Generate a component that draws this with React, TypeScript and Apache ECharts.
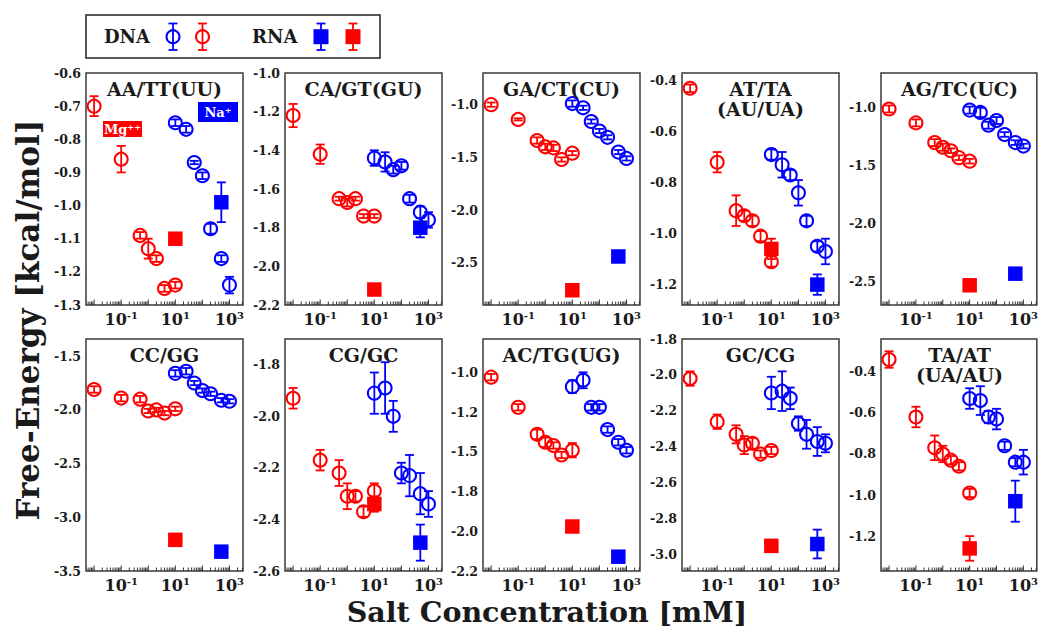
import React, { useEffect, useRef } from "react";
import * as echarts from "echarts";

// Salt concentrations (mM)
const mgConc = [0.01, 0.1, 0.5, 1, 2, 4, 10];
const naConc = [10, 25, 50, 100, 200, 500, 1000];
const rnaConc = [10, 500]; // [Mg, Na]

const titles = [
  "AA/TT(UU)", "CA/GT(GU)", "GA/CT(CU)", "AT/TA\n(AU/UA)", "AG/TC(UC)",
  "CC/GG", "CG/GC", "AC/TG(UG)", "GC/CG", "TA/AT\n(UA/AU)",
];

// ---- Free energies (kcal/mol) ----
const aaMg = [-0.70, -0.86, -1.09, -1.13, -1.16, -1.25, -1.24];
const aaMgErr = [0.03, 0.04, 0.01, 0.03, 0.01, 0.01, 0.01];
const aaNa = [-0.75, -0.77, -0.87, -0.91, -1.07, -1.16, -1.24];
const aaNaErr = [0.01, 0.01, 0.005, 0.01, 0.015, 0.01, 0.025];
const aaRna = [-1.10, -0.99];
const aaRnaErr = [0.01, 0.06];

const caMg = [-1.22, -1.42, -1.65, -1.67, -1.65, -1.74, -1.74];
const caMgErr = [0.06, 0.05, 0.01, 0.02, 0.01, 0.01, 0.01];
const caNa = [-1.44, -1.46, -1.50, -1.48, -1.65, -1.72, -1.76];
const caNaErr = [0.04, 0.05, 0.02, 0.02, 0.02, 0.03, 0.04];
const caRna = [-2.12, -1.80];
const caRnaErr = [0.01, 0.05];

const gaMg = [-1.00, -1.14, -1.34, -1.40, -1.41, -1.52, -1.46];
const gaMgErr = [0.02, 0.01, 0.03, 0.03, 0.03, 0.02, 0.02];
const gaNa = [-0.99, -1.03, -1.16, -1.25, -1.31, -1.45, -1.51];
const gaNaErr = [0.03, 0.02, 0.02, 0.02, 0.02, 0.02, 0.02];
const gaRna = [-2.76, -2.44];
const gaRnaErr = [0.01, 0.01];

const atMg = [-0.43, -0.72, -0.91, -0.93, -0.95, -1.01, -1.11];
const atMgErr = [0.015, 0.04, 0.06, 0.02, 0.02, 0.02, 0.02];
const atNa = [-0.69, -0.73, -0.77, -0.84, -0.95, -1.05, -1.07];
const atNaErr = [0.02, 0.05, 0.02, 0.05, 0.02, 0.02, 0.05];
const atRna = [-1.06, -1.20];
const atRnaErr = [0.04, 0.04];

const agMg = [-1.01, -1.13, -1.30, -1.34, -1.37, -1.43, -1.46];
const agMgErr = [0.03, 0.03, 0.03, 0.03, 0.02, 0.02, 0.02];
const agNa = [-1.02, -1.04, -1.15, -1.11, -1.23, -1.30, -1.33];
const agNaErr = [0.03, 0.04, 0.03, 0.03, 0.02, 0.02, 0.02];
const agRna = [-2.53, -2.43];
const agRnaErr = [0.01, 0.01];

const ccMg = [-1.81, -1.89, -1.90, -2.01, -2.00, -2.03, -1.99];
const ccMgErr = [0.03, 0.03, 0.03, 0.02, 0.02, 0.02, 0.02];
const ccNa = [-1.66, -1.64, -1.75, -1.82, -1.85, -1.91, -1.92];
const ccNaErr = [0.03, 0.03, 0.02, 0.02, 0.02, 0.02, 0.02];
const ccRna = [-3.21, -3.32];
const ccRnaErr = [0.01, 0.01];

const cgMg = [-1.93, -2.17, -2.22, -2.31, -2.31, -2.37, -2.29];
const cgMgErr = [0.04, 0.04, 0.05, 0.05, 0.02, 0.02, 0.03];
const cgNa = [-1.91, -1.89, -2.00, -2.22, -2.23, -2.30, -2.34];
const cgNaErr = [0.08, 0.10, 0.06, 0.04, 0.08, 0.08, 0.05];
const cgRna = [-2.34, -2.49];
const cgRnaErr = [0.03, 0.07];

const acMg = [-1.03, -1.22, -1.39, -1.44, -1.46, -1.52, -1.49];
const acMgErr = [0.02, 0.02, 0.03, 0.03, 0.02, 0.02, 0.045];
const acNa = [-1.09, -1.05, -1.22, -1.22, -1.36, -1.44, -1.49];
const acNaErr = [0.04, 0.05, 0.02, 0.02, 0.02, 0.02, 0.02];
const acRna = [-1.97, -2.16];
const acRnaErr = [0.03, 0.02];

const gcMg = [-2.02, -2.26, -2.33, -2.39, -2.38, -2.44, -2.42];
const gcMgErr = [0.04, 0.04, 0.05, 0.05, 0.03, 0.02, 0.02];
const gcNa = [-2.10, -2.09, -2.13, -2.27, -2.33, -2.37, -2.38];
const gcNaErr = [0.09, 0.11, 0.06, 0.04, 0.08, 0.08, 0.05];
const gcRna = [-2.95, -2.94];
const gcRnaErr = [0.01, 0.08];

const taMg = [-0.34, -0.62, -0.77, -0.80, -0.83, -0.86, -0.99];
const taMgErr = [0.04, 0.05, 0.06, 0.04, 0.02, 0.02, 0.02];
const taNa = [-0.53, -0.54, -0.62, -0.63, -0.76, -0.84, -0.84];
const taNaErr = [0.05, 0.07, 0.03, 0.05, 0.02, 0.02, 0.06];
const taRna = [-1.26, -1.03];
const taRnaErr = [0.06, 0.10];

// ---- y axis ranges and tick labels ----
const yMins = [-1.3, -2.2, -2.9, -1.28, -2.7, -3.5, -2.6, -2.25, -3.09, -1.37];
const yMaxs = [-0.6, -1.0, -0.7, -0.37, -0.7, -1.34, -1.7, -0.79, -1.8, -0.24];
const yTicks = [
  [-1.3, -1.2, -1.1, -1.0, -0.9, -0.8, -0.7, -0.6],
  [-2.2, -2.0, -1.8, -1.6, -1.4, -1.2, -1.0],
  [-2.5, -2.0, -1.5, -1.0],
  [-1.2, -1.0, -0.8, -0.6, -0.4],
  [-2.5, -2.0, -1.5, -1.0],
  [-3.5, -3.0, -2.5, -2.0, -1.5],
  [-2.6, -2.4, -2.2, -2.0, -1.8],
  [-2.25, -2.0, -1.75, -1.5, -1.25, -1.0],
  [-3.0, -2.8, -2.6, -2.4, -2.2, -2.0, -1.8],
  [-1.2, -1.0, -0.8, -0.6, -0.4],
];
const yTickLabels = [
  ["-1.3", "-1.2", "-1.1", "-1.0", "-0.9", "-0.8", "-0.7", "-0.6"],
  ["-2.2", "-2.0", "-1.8", "-1.6", "-1.4", "-1.2", "-1.0"],
  ["-2.5", "-2.0", "-1.5", "-1.0"],
  ["-1.2", "-1.0", "-0.8", "-0.6", "-0.4"],
  ["-2.5", "-2.0", "-1.5", "-1.0"],
  ["-3.5", "-3.0", "-2.5", "-2.0", "-1.5"],
  ["-2.6", "-2.4", "-2.2", "-2.0", "-1.8"],
  ["-2.2", "-2.0", "-1.8", "-1.5", "-1.2", "-1.0"],
  ["-3.0", "-2.8", "-2.6", "-2.4", "-2.2", "-2.0", "-1.8"],
  ["-1.2", "-1.0", "-0.8", "-0.6", "-0.4"],
];
const xLabelExps = [-1, 1, 3];
const xMinExp = -2.3;
const xMaxExp = 3.5;

const panelMg = [aaMg, caMg, gaMg, atMg, agMg, ccMg, cgMg, acMg, gcMg, taMg];
const panelMgErr = [aaMgErr, caMgErr, gaMgErr, atMgErr, agMgErr, ccMgErr, cgMgErr, acMgErr, gcMgErr, taMgErr];
const panelNa = [aaNa, caNa, gaNa, atNa, agNa, ccNa, cgNa, acNa, gcNa, taNa];
const panelNaErr = [aaNaErr, caNaErr, gaNaErr, atNaErr, agNaErr, ccNaErr, cgNaErr, acNaErr, gcNaErr, taNaErr];
const panelRna = [aaRna, caRna, gaRna, atRna, agRna, ccRna, cgRna, acRna, gcRna, taRna];
const panelRnaErr = [aaRnaErr, caRnaErr, gaRnaErr, atRnaErr, agRnaErr, ccRnaErr, cgRnaErr, acRnaErr, gcRnaErr, taRnaErr];

const RED = "#ff0000";
const BLUE = "#0000ff";
const INK = "#1a1a1a";
const FONT = "'DejaVu Serif', serif";

const lefts = [86, 285, 483, 682, 881];
const tops = [73, 339];
const W = 157;
const H = 232;

function buildOption() {
  const grids: any[] = [];
  const xAxes: any[] = [];
  const yAxes: any[] = [];
  const series: any[] = [];
  const graphics: any[] = [];

  // log-axis tick positions (decoration of the axis)
  const xTicks: number[][] = [];
  for (let n = -3; n <= 3; n++) {
    for (let k = 1; k <= 9; k++) {
      const v = Math.log10(k * Math.pow(10, n));
      if (v >= xMinExp && v <= xMaxExp) xTicks.push([v, k === 1 ? 1 : 0]);
    }
  }

  const errRender = (color: string) => (params: any, api: any) => {
    const x = api.value(0), y = api.value(1), e = api.value(2);
    const a = api.coord([x, y + e]);
    const b = api.coord([x, y - e]);
    const hw = 4.5;
    const st = { stroke: color, lineWidth: 1.8 };
    return {
      type: "group",
      children: [
        { type: "line", shape: { x1: a[0], y1: a[1], x2: b[0], y2: b[1] }, style: st },
        { type: "line", shape: { x1: a[0] - hw, y1: a[1], x2: a[0] + hw, y2: a[1] }, style: st },
        { type: "line", shape: { x1: b[0] - hw, y1: b[1], x2: b[0] + hw, y2: b[1] }, style: st },
      ],
    };
  };

  for (let i = 0; i < 10; i++) {
    const row = Math.floor(i / 5);
    const col = i % 5;
    const left = lefts[col];
    const top = tops[row];
    grids.push({
      left, top, width: W, height: H, show: true,
      borderColor: "#3a3a3a", borderWidth: 1.5, backgroundColor: "transparent",
    });
    xAxes.push({
      type: "value", gridIndex: i, min: xMinExp, max: xMaxExp,
      axisLine: { show: false }, axisTick: { show: false }, splitLine: { show: false },
      axisLabel: {
        customValues: xLabelExps,
        margin: 5,
        formatter: (v: number) => `{b|10}{s|${Math.round(v)}}`,
        rich: {
          b: { fontFamily: FONT, fontWeight: "bold", fontSize: 16, color: INK, lineHeight: 18 },
          s: { fontFamily: FONT, fontWeight: "bold", fontSize: 10, color: INK, verticalAlign: "top", lineHeight: 12 },
        },
      },
    });
    const ticks = yTicks[i];
    const labels = yTickLabels[i];
    yAxes.push({
      type: "value", gridIndex: i, min: yMins[i], max: yMaxs[i],
      axisLine: { show: false }, axisTick: { show: false }, splitLine: { show: false },
      axisLabel: {
        customValues: ticks,
        margin: 5,
        fontFamily: FONT, fontWeight: "bold", fontSize: 12.5, color: INK,
        formatter: (v: number) => {
          const idx = ticks.findIndex((t) => Math.abs(t - v) < 1e-6);
          return idx >= 0 ? labels[idx] : "";
        },
      },
    });

    const yMin = yMins[i];
    // axis minor/major ticks
    series.push({
      type: "custom", xAxisIndex: i, yAxisIndex: i, silent: true,
      data: xTicks, encode: { x: 0 },
      renderItem: (params: any, api: any) => {
        const p = api.coord([api.value(0), yMin]);
        const len = api.value(1) ? 5.5 : 3.5;
        return {
          type: "line",
          shape: { x1: p[0], y1: p[1], x2: p[0], y2: p[1] - len },
          style: { stroke: "#333", lineWidth: 1 },
        };
      },
    });

    const mg = panelMg[i], mgE = panelMgErr[i];
    const na = panelNa[i], naE = panelNaErr[i];
    const rna = panelRna[i], rnaE = panelRnaErr[i];

    const groups = [
      { conc: mgConc, vals: mg, errs: mgE, color: RED, sym: "circle" },
      { conc: naConc, vals: na, errs: naE, color: BLUE, sym: "circle" },
      { conc: [rnaConc[0]], vals: [rna[0]], errs: [rnaE[0]], color: RED, sym: "rect" },
      { conc: [rnaConc[1]], vals: [rna[1]], errs: [rnaE[1]], color: BLUE, sym: "rect" },
    ];
    groups.forEach((g) => {
      series.push({
        type: "custom", xAxisIndex: i, yAxisIndex: i, silent: true,
        data: g.conc.map((c, j) => [Math.log10(c), g.vals[j], g.errs[j]]),
        encode: { x: 0, y: 1 },
        renderItem: errRender(g.color),
        z: 3,
      });
      series.push({
        type: "scatter", xAxisIndex: i, yAxisIndex: i, silent: true,
        data: g.conc.map((c, j) => [Math.log10(c), g.vals[j]]),
        symbol: g.sym,
        symbolSize: g.sym === "rect" ? 14.5 : 13,
        itemStyle: g.sym === "rect"
          ? { color: g.color, opacity: 1 }
          : { color: "rgba(255,255,255,0)", borderColor: g.color, borderWidth: 2, opacity: 1 },
        emphasis: { disabled: true },
        z: 4,
      });
    });

    // panel title
    graphics.push({
      type: "text",
      x: left + W / 2,
      y: top + 6,
      style: {
        text: titles[i],
        font: `bold 19px ${FONT}`,
        fill: INK,
        textAlign: "center",
        textVerticalAlign: "top",
        lineHeight: 20,
      },
      z: 10,
    });
  }

  // Mg++ / Na+ tags in the first panel
  graphics.push(
    { type: "rect", shape: { x: 103, y: 121, width: 39, height: 16 }, style: { fill: RED } },
    {
      type: "text", x: 122.5, y: 129,
      style: { text: "Mg⁺⁺", font: `bold 13px ${FONT}`, fill: "#fff", textAlign: "center", textVerticalAlign: "middle" },
    },
    { type: "rect", shape: { x: 198, y: 102, width: 40, height: 20 }, style: { fill: BLUE } },
    {
      type: "text", x: 218, y: 112,
      style: { text: "Na⁺", font: `bold 13px ${FONT}`, fill: "#fff", textAlign: "center", textVerticalAlign: "middle" },
    }
  );

  // Legend
  const ly = 36.7;
  const legendCircle = (cx: number, color: string) => [
    { type: "line", shape: { x1: cx, y1: 23.5, x2: cx, y2: 50 }, style: { stroke: color, lineWidth: 1.8 } },
    { type: "line", shape: { x1: cx - 4.5, y1: 23.5, x2: cx + 4.5, y2: 23.5 }, style: { stroke: color, lineWidth: 1.8 } },
    { type: "line", shape: { x1: cx - 4.5, y1: 50, x2: cx + 4.5, y2: 50 }, style: { stroke: color, lineWidth: 1.8 } },
    { type: "circle", shape: { cx, cy: ly, r: 6.5 }, style: { fill: "none", stroke: color, lineWidth: 2 } },
  ];
  const legendSquare = (cx: number, color: string) => [
    { type: "line", shape: { x1: cx, y1: 23.5, x2: cx, y2: 50 }, style: { stroke: color, lineWidth: 1.8 } },
    { type: "line", shape: { x1: cx - 4.5, y1: 23.5, x2: cx + 4.5, y2: 23.5 }, style: { stroke: color, lineWidth: 1.8 } },
    { type: "line", shape: { x1: cx - 4.5, y1: 50, x2: cx + 4.5, y2: 50 }, style: { stroke: color, lineWidth: 1.8 } },
    { type: "rect", shape: { x: cx - 7.5, y: ly - 7.5, width: 15, height: 15 }, style: { fill: color } },
  ];
  graphics.push(
    { type: "rect", shape: { x: 86, y: 15, width: 294, height: 43 }, style: { fill: "none", stroke: "#222", lineWidth: 1.5 } },
    { type: "text", x: 104, y: ly, style: { text: "DNA", font: `bold 18px ${FONT}`, fill: INK, textAlign: "left", textVerticalAlign: "middle" } },
    ...legendCircle(173, BLUE),
    ...legendCircle(202.5, RED),
    { type: "text", x: 252, y: ly, style: { text: "RNA", font: `bold 18px ${FONT}`, fill: INK, textAlign: "left", textVerticalAlign: "middle" } },
    ...legendSquare(321, BLUE),
    ...legendSquare(353, RED)
  );

  // Axis titles
  graphics.push(
    {
      type: "text", x: 28, y: 320, rotation: Math.PI / 2,
      style: { text: "Free-Energy [kcal/mol]", font: `bold 31px ${FONT}`, fill: INK, textAlign: "center", textVerticalAlign: "middle" },
    },
    {
      type: "text", x: 547, y: 612,
      style: { text: "Salt Concentration [mM]", font: `bold 28.5px ${FONT}`, fill: INK, textAlign: "center", textVerticalAlign: "middle" },
    }
  );

  return {
    animation: false,
    backgroundColor: "#ffffff",
    grid: grids,
    xAxis: xAxes,
    yAxis: yAxes,
    series,
    graphic: graphics,
  };
}

export default function App() {
  const ref = useRef<HTMLDivElement>(null);
  useEffect(() => {
    if (!ref.current) return;
    const chart = echarts.init(ref.current, undefined, { renderer: "svg" });
    chart.setOption(buildOption() as any);
    return () => chart.dispose();
  }, []);
  return (
    <div
      ref={ref}
      style={{ position: "absolute", left: 0, top: 0, width: 1041, height: 630 }}
    />
  );
}
